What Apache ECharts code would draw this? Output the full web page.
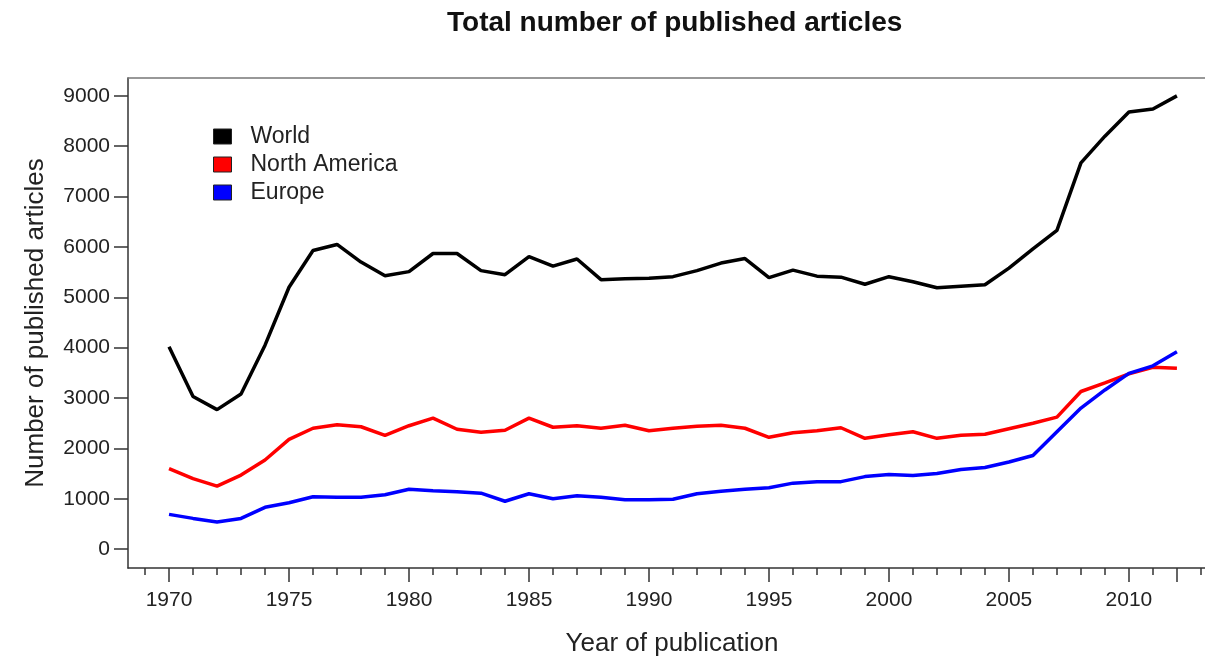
<!DOCTYPE html>
<html>
<head>
<meta charset="utf-8">
<script src="https://cdn.jsdelivr.net/npm/echarts@6/dist/echarts.min.js"></script>
<style>html,body{margin:0;padding:0;background:#fff;}#c{width:1205px;height:662px;}</style>
</head>
<body>
<div id="c"></div>
<script>
const years = [1970,1971,1972,1973,1974,1975,1976,1977,1978,1979,1980,1981,1982,1983,1984,1985,1986,1987,1988,1989,1990,1991,1992,1993,1994,1995,1996,1997,1998,1999,2000,2001,2002,2003,2004,2005,2006,2007,2008,2009,2010,2011,2012];
const world = [4020,3030,2770,3080,4050,5200,5930,6050,5700,5430,5510,5870,5870,5530,5450,5810,5620,5760,5350,5370,5380,5410,5530,5680,5770,5390,5540,5420,5400,5260,5410,5310,5190,5220,5250,5580,5960,6330,7670,8200,8680,8740,9000];
const northAmerica = [1600,1400,1250,1470,1770,2180,2400,2470,2430,2260,2450,2600,2380,2320,2360,2600,2420,2450,2400,2460,2350,2400,2440,2460,2400,2220,2310,2350,2410,2200,2270,2330,2200,2260,2280,2390,2500,2620,3130,3300,3480,3610,3590];
const europe = [690,610,540,610,830,920,1040,1030,1030,1080,1190,1160,1140,1110,950,1100,1000,1060,1030,980,980,990,1100,1150,1190,1220,1310,1340,1340,1440,1480,1460,1500,1580,1620,1730,1860,2330,2800,3160,3490,3640,3920];
const yTicks = [0,1000,2000,3000,4000,5000,6000,7000,8000,9000];
const xLabelTicks = [1970,1975,1980,1985,1990,1995,2000,2005,2010];
const xMajorTicks = [1970,1975,1980,1985,1990,1995,2000,2005,2010,2012];
const xMinorTicks = [1969,1970,1971,1972,1973,1974,1975,1976,1977,1978,1979,1980,1981,1982,1983,1984,1985,1986,1987,1988,1989,1990,1991,1992,1993,1994,1995,1996,1997,1998,1999,2000,2001,2002,2003,2004,2005,2006,2007,2008,2009,2010,2011,2012,2013];

const pairs = arr => years.map((y, i) => [y, arr[i]]);
const FONT = 'Liberation Sans, Arial, sans-serif';
const axisColor = '#333';
const plain = v => String(Math.round(v));

const chart = echarts.init(document.getElementById('c'));
chart.setOption({
  animation: false,
  backgroundColor: '#fff',
  title: {
    text: 'Total number of published articles',
    left: 447, top: 9, padding: 0,
    textStyle: {fontFamily: FONT, fontSize: 28, fontWeight: 'bold', color: '#111'}
  },
  legend: {
    orient: 'vertical', left: 213, top: 125, padding: 0,
    itemWidth: 18, itemHeight: 15, itemGap: 5,
    icon: 'rect',
    itemStyle: {borderColor: '#222', borderWidth: 1},
    formatter: '{a|{name}}',
    textStyle: {fontFamily: FONT, fontSize: 23, color: '#222',
      rich: {a: {fontFamily: FONT, fontSize: 23, color: '#222', padding: [0,0,0,14], lineHeight: 22}}},
    data: ['World', 'North America', 'Europe']
  },
  grid: {left: 128, right: 0, top: 78, bottom: 91, containLabel: false},
  xAxis: [
    {
      type: 'value', min: 1968.29, max: 2013.17, position: 'bottom',
      axisLine: {show: true, onZero: false, lineStyle: {color: axisColor, width: 1.5}},
      axisTick: {show: true, length: 7, customValues: xMinorTicks, lineStyle: {color: axisColor, width: 1.5}},
      axisLabel: {show: false},
      splitLine: {show: false},
      name: 'Year of publication', nameLocation: 'middle', nameGap: 63,
      nameTextStyle: {fontFamily: FONT, fontSize: 26, color: '#222', padding: [0,0,0,11]}
    },
    {
      type: 'value', min: 1968.29, max: 2013.17, position: 'bottom',
      axisLine: {show: false, onZero: false},
      axisTick: {show: true, length: 14, customValues: xMajorTicks, lineStyle: {color: axisColor, width: 1.5}},
      axisLabel: {show: true, customValues: xLabelTicks, margin: 22, formatter: plain,
        fontFamily: FONT, fontSize: 21, color: '#222'},
      splitLine: {show: false}
    },
    {
      type: 'value', min: 1968.29, max: 2013.17, position: 'top',
      axisLine: {show: true, onZero: false, lineStyle: {color: '#777', width: 1.5}},
      axisTick: {show: false}, axisLabel: {show: false}, splitLine: {show: false}
    }
  ],
  yAxis: {
    type: 'value', min: -375, max: 9355,
    axisLine: {show: true, onZero: false, lineStyle: {color: axisColor, width: 1.5}},
    axisTick: {show: true, length: 14, customValues: yTicks, lineStyle: {color: axisColor, width: 1.5}},
    axisLabel: {show: true, customValues: yTicks, margin: 18, formatter: plain, fontFamily: FONT, fontSize: 21, color: '#222'},
    splitLine: {show: false},
    name: 'Number of published articles', nameLocation: 'middle', nameGap: 79,
    nameTextStyle: {fontFamily: FONT, fontSize: 26, color: '#222'}
  },
  series: [
    {name: 'World', type: 'line', data: pairs(world), xAxisIndex: 0, showSymbol: false, symbol: 'none',
      color: '#000', lineStyle: {color: '#000', width: 3.5}, itemStyle: {color: '#000'}},
    {name: 'North America', type: 'line', data: pairs(northAmerica), xAxisIndex: 0, showSymbol: false, symbol: 'none',
      color: '#ff0000', lineStyle: {color: '#ff0000', width: 3.5}, itemStyle: {color: '#ff0000'}},
    {name: 'Europe', type: 'line', data: pairs(europe), xAxisIndex: 0, showSymbol: false, symbol: 'none',
      color: '#0000ff', lineStyle: {color: '#0000ff', width: 3.5}, itemStyle: {color: '#0000ff'}}
  ]
});
</script>
</body>
</html>
